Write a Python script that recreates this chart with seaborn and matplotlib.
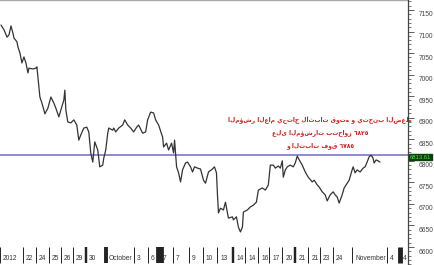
import matplotlib
matplotlib.use("Agg")
import matplotlib.pyplot as plt
import seaborn as sns
import numpy as np
import matplotlib.transforms as mtransforms
from matplotlib.ticker import MultipleLocator

# ---- data ----
t = [0,3,6,8,10,12,13,16,17,19,21,23,25,27,28,32,35,36,37,39,41,43,44,47,50,53,55,58,61,63,64,65,67,70,73,76,78,80,83,86,88,90,92,94,97,99,102,103,105,107,108,112,113,115,118,122,124,127,130,133,136,138,142,145,147,150,153,155,158,162,163,166,168,171,173,174,176,178,180,182,185,187,190,192,194,197,200,203,205,208,212,214,216,217,218,220,223,225,227,228,232,233,236,238,240,242,243,247,250,253,256,258,262,265,268,270,273,275,278,280,282,283,285,287,290,293,295,297,299,302,305,308,312,314,317,319,322,325,327,330,333,335,337,339,342,344,347,349,352,353,355,357,360,363,365,367,369,371,373,374,376,378,380]
price = [7115,7104,7087,7092,7113,7096,7085,7076,7064,7050,7027,7041,7027,7004,7015,7013,7015,7018,6994,6948,6934,6918,6909,6922,6948,6934,6922,6902,6925,6941,6964,6918,6890,6888,6895,6883,6848,6860,6876,6878,6867,6818,6797,6844,6825,6786,6790,6806,6825,6864,6876,6871,6876,6867,6876,6883,6895,6883,6876,6867,6878,6883,6864,6867,6895,6913,6911,6895,6883,6855,6832,6841,6825,6841,6818,6848,6786,6772,6751,6779,6795,6797,6786,6774,6786,6783,6781,6755,6748,6774,6781,6786,6772,6721,6679,6690,6686,6704,6679,6667,6670,6663,6670,6646,6635,6646,6681,6686,6693,6697,6704,6732,6737,6732,6744,6790,6790,6783,6788,6783,6800,6762,6779,6786,6790,6786,6795,6811,6802,6790,6774,6762,6751,6755,6744,6739,6728,6721,6707,6721,6728,6721,6716,6702,6721,6737,6748,6755,6779,6786,6772,6779,6774,6783,6786,6797,6809,6813,6806,6795,6802,6800,6797]

date_pos = [-1,22,35,48,60,72,85,105,133,147,159,172,188,202,217,233,245,258,269,282,295,308,320,333,352,387,400]
date_labels = ['2012','22','24','25','26','29','30','October','3','6','7','7','9','10','13','14','14','16','17','20','21','21','23','24','November','4','4']
sep_width = [1,1,1,1,1,1,2.5,4,1,1,8,1,1,1,1,2.5,1,1,1,1,2.5,1,1,1,1,1,5]

y_ticks = [6600,6650,6700,6750,6800,6850,6900,6950,7000,7050,7100,7150]
level = 6813.61
note_lines = ["المؤشر العام يحتاج لأثبات قوته و يتجنب الضغط",
              "على المؤشرات بتجاوز ٦٨٢٥",
              "و الثبات فوق ٦٧٨٥"]

# ---- figure ----
sns.set_style("white")
plt.rcParams['font.family'] = ['Liberation Sans', 'DejaVu Sans']
W, H = 435, 265
fig = plt.figure(figsize=(W/100, H/100), dpi=100)

PX = 1/0.431          # price units per pixel
v_top = 6600 + 247*PX
v_bot_main = 6600 + (247-242)*PX
v_bot_full = 6600 + (247-265)*PX

ax = fig.add_axes([0, (H-242)/H, 408/W, 242/H])
ax2 = fig.add_axes([0, 0, 408/W, 1.0])
ax2.patch.set_alpha(0)

sns.lineplot(x=t, y=price, ax=ax, color='#333333', linewidth=0.9, sort=False)
ax.axhline(level, color='#8c8ccc', linewidth=1.4, zorder=1)
ax.set_xlim(0, 408)
ax.set_ylim(v_bot_main, v_top)
ax.set_yticks([])
for s in ['left', 'bottom', 'right']:
    ax.spines[s].set_visible(False)
ax.spines['top'].set_color('#aaaaaa')
ax.spines['top'].set_linewidth(1.0)

# date bar
ax.set_xticks(date_pos)
ax.set_xticklabels(date_labels, ha='left', fontsize=4.8, color='#333333')
ax.tick_params(axis='x', length=0, pad=9)
off = mtransforms.ScaledTranslation(3/100, 0, fig.dpi_scale_trans)
for lab in ax.get_xticklabels():
    lab.set_transform(lab.get_transform() + off)
trans = mtransforms.blended_transform_factory(ax.transData, ax.transAxes)
for p, w in zip(date_pos, sep_width):
    ax.plot([p, p], [-0.022, -0.085], transform=trans, color='#222222',
            linewidth=w*0.7, clip_on=False, solid_capstyle='butt')

# price axis (right)
ax2.set_xlim(0, 408)
ax2.set_ylim(v_bot_full, v_top)
ax2.set_xticks([])
for s in ['left', 'bottom', 'top']:
    ax2.spines[s].set_visible(False)
ax2.spines['right'].set_color('#444444')
ax2.spines['right'].set_linewidth(0.9)
ax2.yaxis.tick_right()
ax2.set_yticks(y_ticks)
ax2.set_yticklabels([str(v) for v in y_ticks], fontsize=4.8, color='#444444')
ax2.yaxis.set_minor_locator(MultipleLocator(10))
ax2.tick_params(axis='y', which='major', length=4, width=0.6, color='#444444', pad=4)
ax2.tick_params(axis='y', which='minor', length=2, width=0.5, color='#444444')
yoff = mtransforms.ScaledTranslation(0, -4/100, fig.dpi_scale_trans)
for lab in ax2.get_yticklabels():
    lab.set_transform(lab.get_transform() + yoff)
ax2.annotate(f"{level:.2f}", xy=(1.0, level), xycoords=('axes fraction', 'data'),
             xytext=(1.5, -1.5), textcoords='offset points', fontsize=4.2,
             color='#3ee23e', va='center', ha='left',
             bbox=dict(boxstyle='square,pad=0.1', fc='#123d12', ec='#123d12'))

# note
for i, line in enumerate(note_lines):
    ax.text(320, 6893 - i*28.5, line, ha='center', va='center', fontsize=4.3,
            color='#cc2020', family=['DejaVu Sans'], fontweight='bold')

fig.savefig('out.png', dpi=100)
